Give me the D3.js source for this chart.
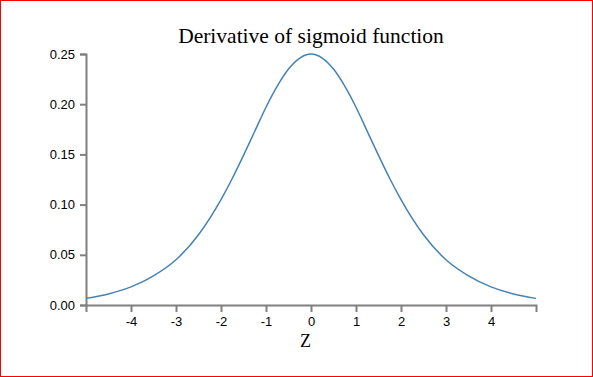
<!DOCTYPE html>
<html>
<head>
<meta charset="utf-8">
<script src="https://cdn.jsdelivr.net/npm/d3@7"></script>
<style>
  body { margin: 0; background: #fff; }
  .axis text { font-family: "Liberation Sans", Arial, sans-serif; font-size: 13px; fill: #000; }
  .axis path, .axis line { stroke: #808080; stroke-width: 2; }
</style>
</head>
<body>
<div id="chart"></div>
<script>
// values
let zs = [-5, -4.5, -4, -3.5, -3, -2.5, -2, -1.75, -1.5, -1.25, -1, -0.75, -0.5, -0.25, 0,
          0.25, 0.5, 0.75, 1, 1.25, 1.5, 1.75, 2, 2.5, 3, 3.5, 4, 4.5, 5];
let dsig = [0.0066, 0.011, 0.018, 0.029, 0.045, 0.070, 0.105, 0.126, 0.149, 0.173, 0.197, 0.218, 0.235, 0.246, 0.25,
            0.246, 0.235, 0.218, 0.197, 0.173, 0.149, 0.126, 0.105, 0.070, 0.045, 0.029, 0.018, 0.011, 0.0066];
let xTicks = [-4, -3, -2, -1, 0, 1, 2, 3, 4];
let yTicks = [0, 0.05, 0.10, 0.15, 0.20, 0.25];

let W = 593, H = 377;
let margin = {top: 54, right: 57, bottom: 72, left: 86};

let svg = d3.select("#chart").append("svg")
  .attr("width", W).attr("height", H);

svg.append("rect")
  .attr("x", 0.5).attr("y", 0.5)
  .attr("width", W - 1).attr("height", H - 1)
  .attr("fill", "none").attr("stroke", "red");

let x = d3.scaleLinear().domain([-5, 5]).range([margin.left, W - margin.right]);
let y = d3.scaleLinear().domain([0, 0.25]).range([H - margin.bottom, margin.top]);

svg.append("g")
  .attr("class", "axis")
  .attr("transform", `translate(0,${H - margin.bottom})`)
  .call(d3.axisBottom(x).tickValues(xTicks).tickSize(7).tickPadding(5).tickFormat(d => String(d)));

svg.append("g")
  .attr("class", "axis")
  .attr("transform", `translate(${margin.left},0)`)
  .call(d3.axisLeft(y).tickValues(yTicks).tickSize(6).tickPadding(5).tickFormat(d3.format(".2f")));

let pts = zs.map((z, i) => [z, dsig[i]]);
let line = d3.line()
  .x(d => x(d[0]))
  .y(d => y(d[1]))
  .curve(d3.curveMonotoneX);

svg.append("path")
  .datum(pts)
  .attr("d", line)
  .attr("fill", "none")
  .attr("stroke", "steelblue")
  .attr("stroke-width", 1.5);

svg.append("text")
  .attr("x", 311).attr("y", 43)
  .attr("text-anchor", "middle")
  .style("font-family", "'Liberation Serif', serif")
  .style("font-size", "21.5px")
  .text("Derivative of sigmoid function");

svg.append("text")
  .attr("x", 305.5).attr("y", 347)
  .attr("text-anchor", "middle")
  .style("font-family", "'Liberation Serif', serif")
  .style("font-size", "18px")
  .text("Z");
</script>
</body>
</html>
